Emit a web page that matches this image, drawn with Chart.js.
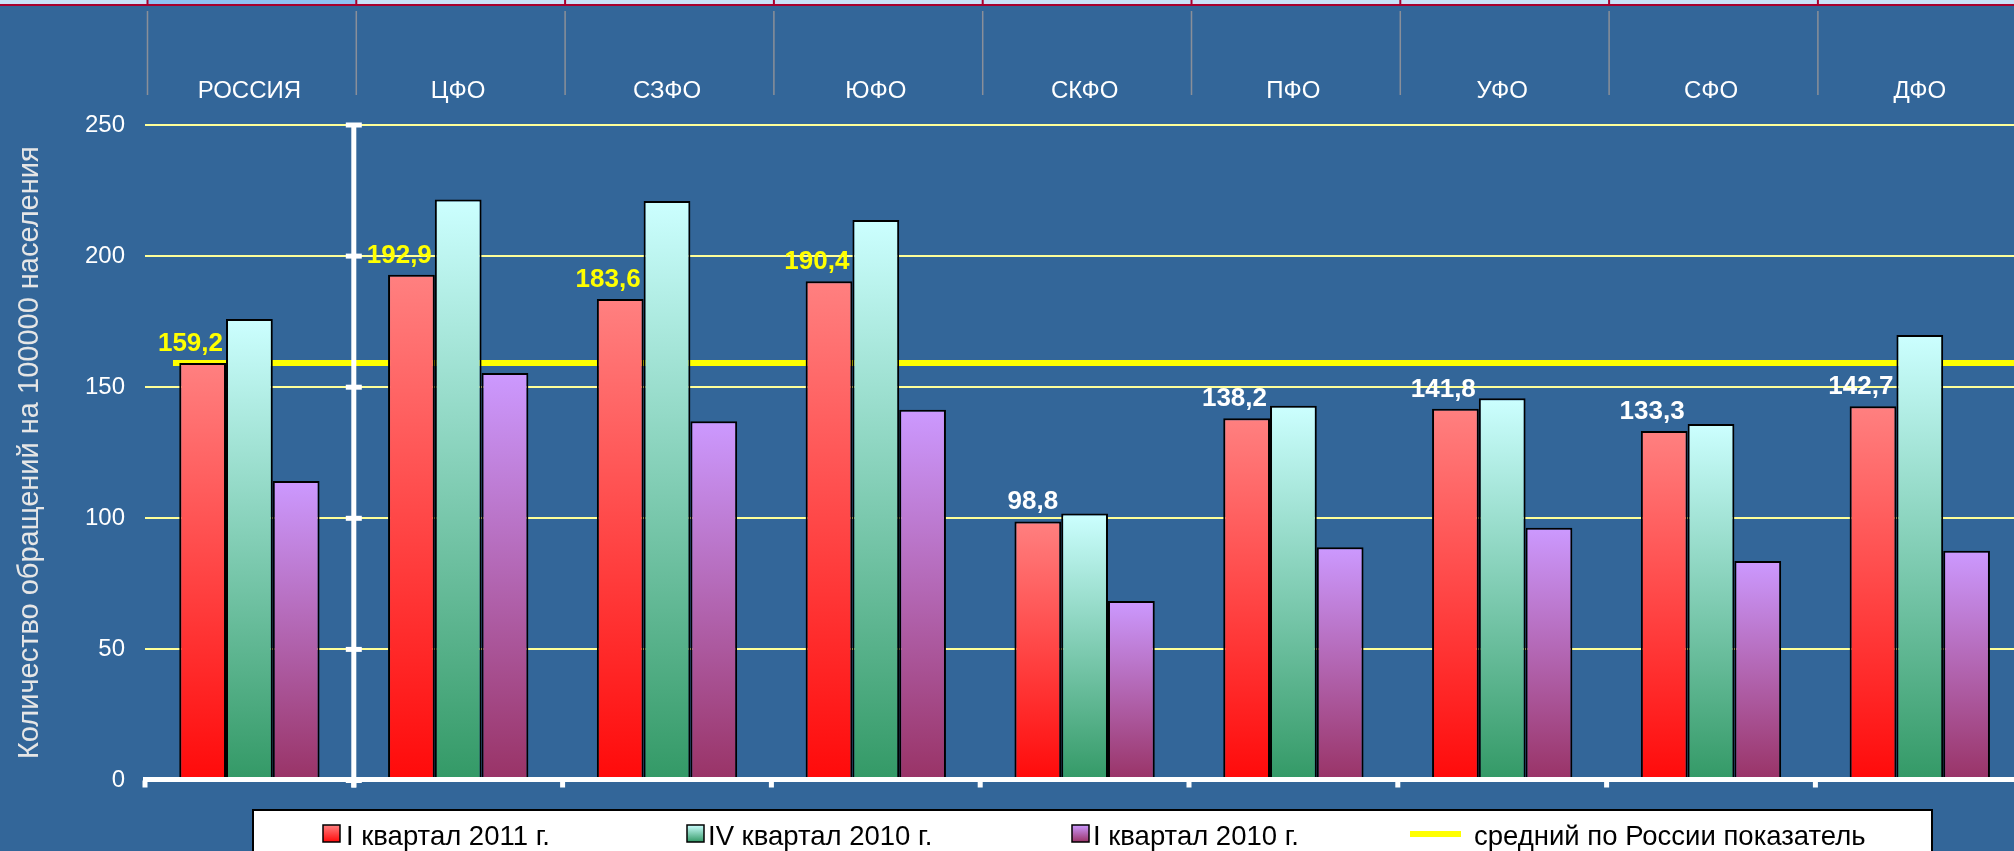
<!DOCTYPE html>
<html>
<head>
<meta charset="utf-8">
<script src="https://cdn.jsdelivr.net/npm/chart.js@4.4.1/dist/chart.umd.min.js"></script>
<style>
  html, body { margin: 0; padding: 0; background: #336699; overflow: hidden; }
  #wrap { width: 2030px; height: 851px; position: relative; }
</style>
</head>
<body>
<div id="wrap"><canvas id="chart"></canvas></div>
<script>
const regions = ['РОССИЯ', 'ЦФО', 'СЗФО', 'ЮФО', 'СКФО', 'ПФО', 'УФО', 'СФО', 'ДФО'];
const q1_2011 = [159.2, 192.9, 183.6, 190.4, 98.8, 138.2, 141.8, 133.3, 142.7];
const q4_2010 = [176.0, 221.6, 221.0, 213.8, 101.8, 142.9, 145.8, 136.0, 169.9];
const q1_2010 = [114.2, 155.4, 137.0, 141.4, 68.5, 89.0, 96.4, 83.7, 87.6];
const russiaAvg = 159.2;
// the average line runs from just left of the first bar to the right end of the axis
const avgLineX = [-0.366, 8.5];
const seriesNames = ['I квартал 2011 г.', 'IV квартал 2010 г.', 'I квартал 2010 г.', 'средний по России показатель'];

const FONT = '"Liberation Sans", Arial, sans-serif';
Chart.defaults.font.family = FONT;

const gradTop = ['#ff8080', '#ccffff', '#cc99ff'];
const gradBottom = ['#ff0a0a', '#339966', '#993366'];

// bars sit on a linear x scale (one unit per region) so the average line can share it
const points = arr => arr.map((v, i) => ({ x: i, y: v }));

function barFill(i) {
  return (c) => {
    const chart = c.chart;
    if (!chart.chartArea || c.type !== 'data' || !c.raw) return gradBottom[i];
    const y = chart.scales.y;
    const g = chart.ctx.createLinearGradient(0, y.getPixelForValue(c.raw.y), 0, y.getPixelForValue(0));
    g.addColorStop(0, gradTop[i]);
    g.addColorStop(1, gradBottom[i]);
    return g;
  };
}

// table strip and column separators above the chart
const topTable = {
  id: 'topTable',
  afterDraw(chart) {
    const ctx = chart.ctx;
    const x = chart.scales.x;
    const step = x.getPixelForValue(1) - x.getPixelForValue(0);
    const edges = regions.map((r, i) => x.getPixelForValue(i) - step / 2 + 2.5);
    ctx.save();
    ctx.fillStyle = '#c9e1f7';
    ctx.fillRect(0, 0, chart.width, 5);
    ctx.fillStyle = '#8fc1f2';
    ctx.fillRect(edges[0], 0, step, 5);
    ctx.fillStyle = '#a8002e';
    ctx.fillRect(0, 4, chart.width, 2);
    edges.forEach(e => ctx.fillRect(e - 1, 0, 2, 6));
    ctx.fillStyle = '#8a8f99';
    edges.forEach(e => ctx.fillRect(e - 0.75, 11, 1.5, 84));
    ctx.restore();
  }
};

// white axes: x axis at zero, value axis between first and second region
const whiteAxes = {
  id: 'whiteAxes',
  afterDatasetsDraw(chart) {
    const ctx = chart.ctx;
    const x = chart.scales.x, y = chart.scales.y;
    const ca = chart.chartArea;
    const step = x.getPixelForValue(1) - x.getPixelForValue(0);
    const y0 = y.getPixelForValue(0);
    ctx.save();
    ctx.fillStyle = '#ffffff';
    ctx.fillRect(ca.left - 2, y0 - 3.5, ca.right - ca.left + 4, 5);
    for (let i = 0; i <= regions.length; i++) {
      const px = x.getPixelForValue(0) - step / 2 + i * step;
      ctx.fillRect(px - 2.5, y0, 5, 7);
    }
    const bx = x.getPixelForValue(0) + step / 2;
    ctx.fillRect(bx - 2.5, y.top, 5, y0 + 7 - y.top);
    y.ticks.forEach(t => {
      const py = y.getPixelForValue(t.value);
      ctx.fillRect(bx - 8, py - 2.5, 16, 5);
    });

    // value labels over the I quarter 2011 bars
    ctx.font = 'bold 26px ' + FONT;
    ctx.textAlign = 'right';
    ctx.textBaseline = 'alphabetic';
    chart.getDatasetMeta(0).data.forEach((bar, i) => {
      const v = q1_2011[i];
      ctx.fillStyle = v >= russiaAvg ? '#ffff00' : '#ffffff';
      ctx.fillText(v.toFixed(1).replace('.', ','), bar.x + bar.width / 2 - 3, bar.y - 12);
    });
    ctx.restore();
  }
};

const legendBox = {
  id: 'legendBox',
  afterDraw(chart) {
    const ctx = chart.ctx;
    const symX = [323, 687, 1072, 1410];
    const textX = [346, 708, 1093, 1474];
    ctx.save();
    ctx.fillStyle = '#ffffff';
    ctx.fillRect(253, 810, 1679, 60);
    ctx.strokeStyle = '#000000';
    ctx.lineWidth = 2;
    ctx.strokeRect(253, 810, 1679, 60);
    seriesNames.forEach((name, i) => {
      if (i < 3) {
        const g = ctx.createLinearGradient(0, 825, 0, 842);
        g.addColorStop(0, gradTop[i]);
        g.addColorStop(1, gradBottom[i]);
        ctx.fillStyle = g;
        ctx.fillRect(symX[i], 825, 17, 17);
        ctx.lineWidth = 1.5;
        ctx.strokeRect(symX[i], 825, 17, 17);
      } else {
        ctx.fillStyle = '#ffff00';
        ctx.fillRect(symX[i], 831, 51, 6);
      }
      ctx.fillStyle = '#000000';
      ctx.font = '27.5px ' + FONT;
      ctx.textBaseline = 'alphabetic';
      ctx.fillText(name, textX[i], 845);
    });
    ctx.restore();
  }
};

new Chart(document.getElementById('chart'), {
  type: 'bar',
  data: {
    datasets: [
      { label: seriesNames[0], data: points(q1_2011), backgroundColor: barFill(0), borderColor: '#000', borderWidth: 2, order: 1 },
      { label: seriesNames[1], data: points(q4_2010), backgroundColor: barFill(1), borderColor: '#000', borderWidth: 2, order: 2 },
      { label: seriesNames[2], data: points(q1_2010), backgroundColor: barFill(2), borderColor: '#000', borderWidth: 2, order: 3 },
      {
        type: 'line', label: seriesNames[3], order: 10,
        data: avgLineX.map(v => ({ x: v, y: russiaAvg })),
        borderColor: '#ffff00', borderWidth: 6, pointRadius: 0, fill: false
      }
    ]
  },
  options: {
    responsive: true,
    maintainAspectRatio: false,
    animation: false,
    layout: { padding: { left: 0, right: 5.8, top: 65, bottom: 70.5 } },
    datasets: { bar: { categoryPercentage: 0.672, barPercentage: 1 } },
    plugins: { legend: { display: false }, tooltip: { enabled: false } },
    scales: {
      x: {
        type: 'linear',
        position: 'top',
        min: -0.5, max: regions.length - 0.5,
        offset: false,
        afterBuildTicks: s => { s.ticks = regions.map((r, i) => ({ value: i })); },
        grid: { display: false, drawTicks: false, offset: false },
        border: { display: false },
        ticks: {
          color: '#ffffff', font: { size: 24 }, padding: 19, maxRotation: 0, autoSkip: false,
          callback: v => regions[v]
        },
        afterFit: s => { s.height = 60; }
      },
      y: {
        min: 0, max: 250,
        ticks: { stepSize: 50, color: '#ffffff', font: { size: 24 }, padding: 20 },
        grid: { color: '#ffff99', lineWidth: 2, drawTicks: false },
        border: { display: false },
        title: {
          display: true,
          text: 'Количество обращений на 100000 населения',
          color: '#e6e6e6',
          font: { size: 29 },
          padding: { top: 13, bottom: 0 }
        },
        afterFit: s => { s.width = 145; }
      }
    }
  },
  plugins: [topTable, whiteAxes, legendBox]
});
</script>
</body>
</html>
